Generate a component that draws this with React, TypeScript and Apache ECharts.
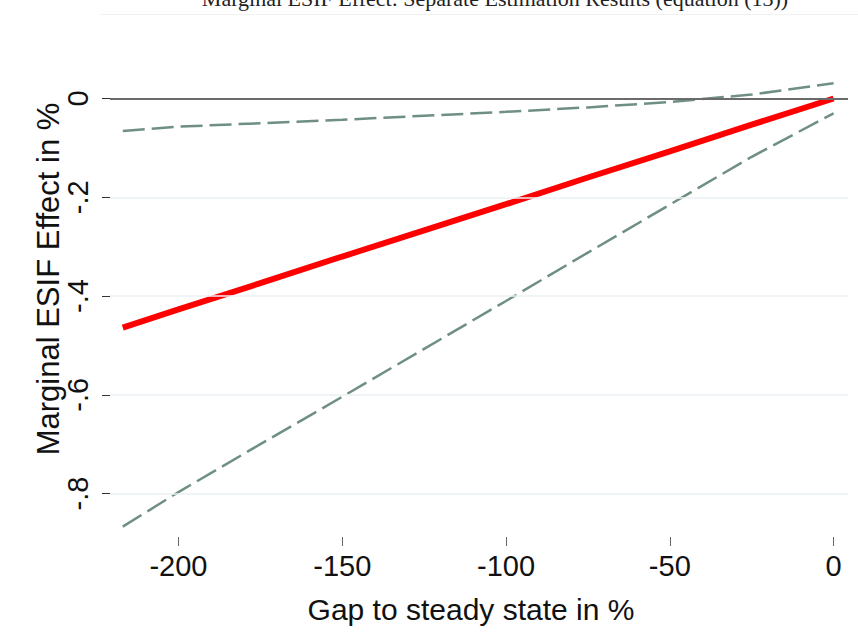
import React, { useEffect, useRef } from "react";
import * as echarts from "echarts";

const gapValues = [-217, -200, -175, -150, -125, -100, -75, -50, -25, 0];
const marginalEffect = [-0.464, -0.427, -0.374, -0.32, -0.267, -0.214, -0.16, -0.107, -0.053, 0];
const lowerBound = [-0.867, -0.797, -0.7, -0.604, -0.507, -0.41, -0.312, -0.215, -0.118, -0.03];
const upperBound = [-0.066, -0.057, -0.05, -0.043, -0.035, -0.027, -0.018, -0.007, 0.008, 0.031];
const xTicks = [-200, -150, -100, -50, 0];
const yTicks = [0, -0.2, -0.4, -0.6, -0.8];
const yTickLabels = ["0", "-.2", "-.4", "-.6", "-.8"];
const gridValues = [-0.2, -0.4, -0.6, -0.8];

const titleText = "Marginal ESIF Effect: Separate Estimation Results (equation (13))";
const xTitle = "Gap to steady state in %";
const yTitle = "Marginal ESIF Effect in %";

const pairs = (ys: number[]) => gapValues.map((x, i) => [x, ys[i]]);

export default function App() {
  const ref = useRef<HTMLDivElement>(null);
  useEffect(() => {
    if (!ref.current) return;
    const chart = echarts.init(ref.current, null, { renderer: "svg" });
    const font = "Liberation Sans, Arial, sans-serif";
    chart.setOption({
      animation: false,
      backgroundColor: "#ffffff",
      grid: { left: 110, right: 10, top: 59, bottom: 98, containLabel: false },
      xAxis: {
        type: "value",
        min: -220.9,
        max: 4.4,
        axisLine: { show: false, onZero: false },
        axisTick: {
          show: true,
          customValues: xTicks,
          length: 9,
          lineStyle: { color: "#666666", width: 1 },
        },
        axisLabel: {
          customValues: xTicks,
          margin: 14,
          fontSize: 29,
          fontFamily: font,
          color: "#111111",
          formatter: (v: number) => String(v),
        },
        splitLine: { show: false },
      },
      yAxis: {
        type: "value",
        min: -0.888,
        max: 0.08,
        axisLine: { show: false, onZero: false },
        axisTick: {
          show: true,
          customValues: yTicks,
          length: 8,
          lineStyle: { color: "#333333", width: 1 },
        },
        axisLabel: {
          customValues: yTicks,
          rotate: 90,
          margin: 18,
          fontSize: 29,
          fontFamily: font,
          color: "#111111",
          formatter: (v: number) => {
            const i = yTicks.findIndex((t) => Math.abs(t - v) < 1e-9);
            return i >= 0 ? yTickLabels[i] : "";
          },
        },
        splitLine: { show: false },
      },
      graphic: [
        {
          type: "text",
          x: 495,
          y: 9,
          style: {
            text: titleText,
            fontFamily: "Liberation Serif, Times New Roman, serif",
            fontSize: 22,
            fill: "#222222",
            align: "center",
            verticalAlign: "bottom",
          },
        },
        {
          type: "line",
          shape: { x1: 100, y1: 14.5, x2: 858, y2: 14.5 },
          style: { stroke: "#f2f2f2", lineWidth: 1 },
        },
        {
          type: "text",
          x: 471,
          y: 609,
          style: {
            text: xTitle,
            fontFamily: font,
            fontSize: 30,
            fill: "#111111",
            align: "center",
            verticalAlign: "middle",
          },
        },
        {
          type: "text",
          x: 48,
          y: 279,
          rotation: Math.PI / 2,
          style: {
            text: yTitle,
            fontFamily: font,
            fontSize: 31,
            fill: "#111111",
            align: "center",
            verticalAlign: "middle",
          },
        },
      ],
      series: [
        {
          type: "line",
          data: [],
          z: 1,
          silent: true,
          markLine: {
            silent: true,
            symbol: "none",
            label: { show: false },
            lineStyle: { color: "#eaf0f4", width: 1.5, type: "solid" },
            data: gridValues.map((v) => ({ yAxis: v })),
          },
        },
        {
          type: "line",
          data: [],
          z: 2,
          silent: true,
          markLine: {
            silent: true,
            symbol: "none",
            label: { show: false },
            lineStyle: { color: "#6b6b6b", width: 2, type: "solid" },
            data: [{ yAxis: 0 }],
          },
        },
        {
          type: "line",
          data: pairs(upperBound),
          showSymbol: false,
          z: 3,
          lineStyle: { color: "#6f8f82", width: 2.5, type: [22, 7] },
        },
        {
          type: "line",
          data: pairs(lowerBound),
          showSymbol: false,
          z: 3,
          lineStyle: { color: "#6f8f82", width: 2.5, type: [22, 7] },
        },
        {
          type: "line",
          data: pairs(marginalEffect),
          showSymbol: false,
          z: 4,
          lineStyle: { color: "#ff0000", width: 6 },
        },
      ],
    });
    return () => chart.dispose();
  }, []);
  return (
    <div
      ref={ref}
      style={{ position: "fixed", left: 0, top: 0, width: 858, height: 635 }}
    />
  );
}
